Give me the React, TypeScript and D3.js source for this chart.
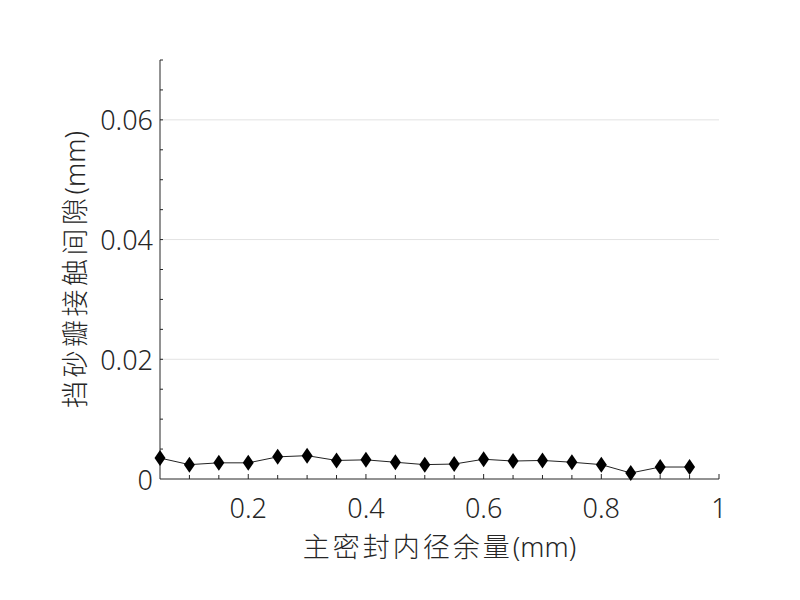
import React from "react";
import * as d3 from "d3";

const xValues = [0.05, 0.1, 0.15, 0.2, 0.25, 0.3, 0.35, 0.4, 0.45, 0.5, 0.55, 0.6, 0.65, 0.7, 0.75, 0.8, 0.85, 0.9, 0.95];
const gapValues = [0.0035, 0.0024, 0.0027, 0.0027, 0.0037, 0.0039, 0.0031, 0.0032, 0.0028, 0.0024, 0.0025, 0.0033, 0.003, 0.0031, 0.0028, 0.0024, 0.001, 0.002, 0.002];
const xTickLabels = [0.2, 0.4, 0.6, 0.8, 1];
const yTickLabels = [0, 0.02, 0.04, 0.06];
const xLabelMain = "主密封内径余量";
const yLabelMain = "挡砂瓣接触间隙";
const unitLabel = "(mm)";

const W = 800, H = 600;
const M = { left: 160, right: 719, top: 60, bottom: 479 };
const TEXT = "#262626";
const FONT = "'Noto Sans', 'Noto Sans CJK SC', sans-serif";

export default function App() {
  const x = d3.scaleLinear().domain([0.05, 1]).range([M.left, M.right]);
  const y = d3.scaleLinear().domain([0, 0.07]).range([M.bottom, M.top]);
  const line = d3.line<number>().x((_, i) => x(xValues[i])).y((d) => y(d));
  const xMinor = d3.range(2, 21).map((i) => +(i * 0.05).toFixed(2));
  const yMinor = d3.range(1, 15).map((i) => +(i * 0.005).toFixed(3));
  const fmt = (v: number) => (v === 0 ? "0" : v === 1 ? "1" : String(v));
  const dw = 5.5, dh = 8;
  const diamond = `M0,${-dh}L${dw},0L0,${dh}L${-dw},0Z`;

  return (
    <svg width={W} height={H} style={{ position: "absolute", left: 0, top: 0, background: "#fff" }} fontFamily={FONT} fontWeight={300}>
      <rect x={0} y={0} width={W} height={H} fill="#fff" />
      {yTickLabels.filter((v) => v > 0).map((v) => (
        <line key={"g" + v} x1={M.left} x2={M.right} y1={y(v)} y2={y(v)} stroke="#e3e3e3" strokeWidth={1} />
      ))}
      <line x1={M.left} x2={M.right} y1={M.bottom} y2={M.bottom} stroke={TEXT} strokeWidth={1} />
      <line x1={M.left} x2={M.left} y1={M.top} y2={M.bottom} stroke={TEXT} strokeWidth={1} />
      {xMinor.map((v) => (
        <line key={"xm" + v} x1={x(v)} x2={x(v)} y1={M.bottom} y2={M.bottom - (xTickLabels.includes(v) ? 5 : 4)} stroke={TEXT} strokeWidth={1} />
      ))}
      {yMinor.map((v) => (
        <line key={"ym" + v} x1={M.left} x2={M.left + 3} y1={y(v)} y2={y(v)} stroke={TEXT} strokeWidth={1} />
      ))}
      {xTickLabels.map((v) => (
        <text key={"xl" + v} x={x(v)} y={507} textAnchor="middle" dominantBaseline="central" fontSize={27} fill={TEXT}>
          {fmt(v)}
        </text>
      ))}
      {yTickLabels.map((v) => (
        <text key={"yl" + v} x={M.left - 7} y={y(v)} textAnchor="end" dominantBaseline="central" fontSize={27} fill={TEXT}>
          {fmt(v)}
        </text>
      ))}
      <path d={line(gapValues) || ""} fill="none" stroke="#222" strokeWidth={1} />
      {gapValues.map((v, i) => (
        <path key={"m" + i} d={diamond} transform={`translate(${x(xValues[i])},${y(v)})`} fill="#000" />
      ))}
      <text x={(M.left + M.right) / 2} y={546} textAnchor="middle" dominantBaseline="central" fontSize={27} fill={TEXT}>
        <tspan letterSpacing={3}>{xLabelMain}</tspan>
        <tspan>{unitLabel}</tspan>
      </text>
      <text transform={`translate(74,${(M.top + M.bottom) / 2}) rotate(-90)`} textAnchor="middle" dominantBaseline="central" fontSize={27} fill={TEXT}>
        <tspan letterSpacing={3.5}>{yLabelMain}</tspan>
        <tspan>{unitLabel}</tspan>
      </text>
    </svg>
  );
}
